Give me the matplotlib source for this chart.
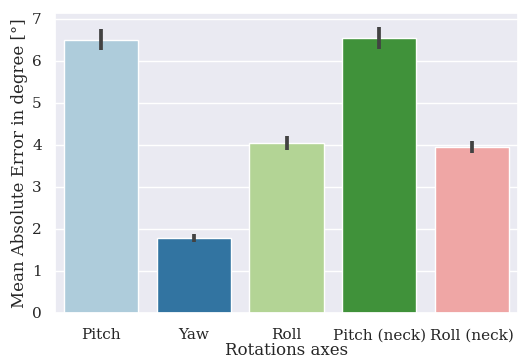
import matplotlib
matplotlib.use("Agg")
import matplotlib.pyplot as plt
import numpy as np
import seaborn as sns

axes_names = ["Pitch", "Yaw", "Roll", "Pitch (neck)", "Roll (neck)"]
mean_error = [6.50, 1.78, 4.05, 6.54, 3.94]
ci_low = [6.25, 1.69, 3.89, 6.29, 3.80]
ci_high = [6.76, 1.88, 4.21, 6.81, 4.09]

sns.set_theme(style="darkgrid", context="notebook")
plt.rcParams["font.family"] = ["DejaVu Serif"]

colors = [sns.desaturate(c, 0.75) for c in sns.color_palette("Paired", 5)]

fig, ax = plt.subplots(figsize=(5.18, 3.6), dpi=100)
fig.subplots_adjust(left=55 / 518, right=1.0, top=1 - 13 / 360, bottom=1 - 313 / 360)

x = np.arange(len(axes_names))
ax.bar(x, mean_error, width=0.8, color=colors, edgecolor="white", linewidth=1)
for xi, lo, hi in zip(x, ci_low, ci_high):
    ax.plot([xi, xi], [lo, hi], color=".26", linewidth=2.7, solid_capstyle="butt")

ax.set_xlim(-0.5, len(axes_names) - 0.5)
ax.set_ylim(0, 7.14)
ax.set_xticks(x)
ax.set_xticklabels(axes_names)
ax.xaxis.grid(False)
ax.tick_params(axis="x", pad=5)
ax.set_xlabel("Rotations axes", labelpad=0)
ax.set_ylabel("Mean Absolute Error in degree [°]", labelpad=3)

fig.savefig("out.png")
